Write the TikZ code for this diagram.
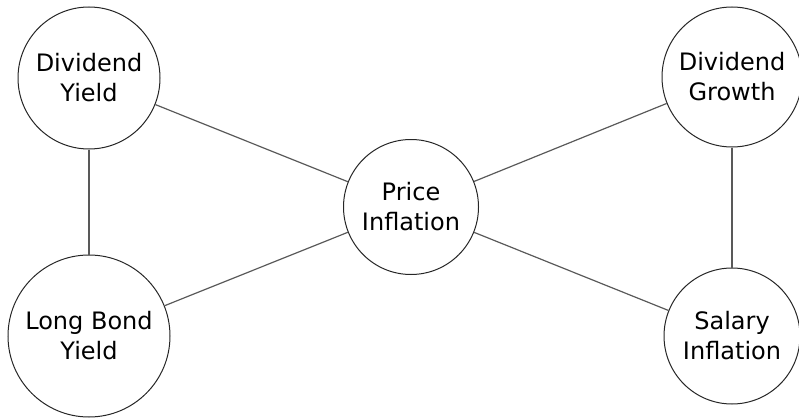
\documentclass[tikz,border=0pt]{standalone}
\usepackage{fontspec}
\setmainfont{DejaVu Sans}
\usetikzlibrary{positioning}

\tikzset{
    factor/.style={circle, draw=black!85, line width=1pt, inner sep=0pt,
        align=center, font=\fontsize{24}{30}\selectfont},
    link/.style={draw=black!65, line width=1.2pt}
}

\begin{document}
\begin{tikzpicture}[x=1pt, y=-1pt]
    % Fix the page to the reference size
    \useasboundingbox (0,0) rectangle (799,417);

    % Factors
    \node[factor, minimum size=142pt] (divyield) at (89,78) {Dividend\\Yield};
    \node[factor, minimum size=162pt] (longbond) at (89,336) {Long Bond\\Yield};
    \node[factor, minimum size=135pt] (priceinf) at (411,207) {Price\\Inflation};
    \node[factor, minimum size=140pt] (divgrowth) at (732,77) {Dividend\\Growth};
    \node[factor, minimum size=136pt] (salaryinf) at (732,336) {Salary\\Inflation};

    % Links
    \draw[link] (divyield) -- (longbond);
    \draw[link] (divyield) -- (priceinf);
    \draw[link] (longbond) -- (priceinf);
    \draw[link] (priceinf) -- (divgrowth);
    \draw[link] (priceinf) -- (salaryinf);
    \draw[link] (divgrowth) -- (salaryinf);
\end{tikzpicture}
\end{document}
